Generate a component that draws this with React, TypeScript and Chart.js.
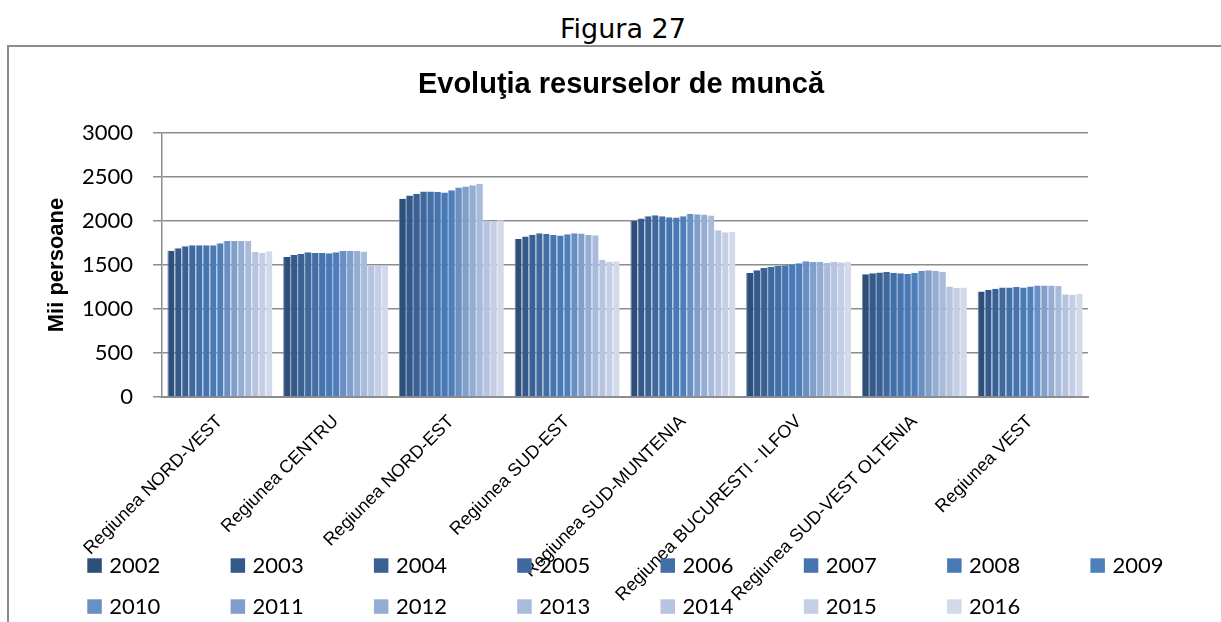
import React, { useEffect, useRef } from "react";
import { Chart, registerables } from "chart.js";

Chart.register(...registerables);

const categories = [
  "Regiunea NORD-VEST",
  "Regiunea CENTRU",
  "Regiunea NORD-EST",
  "Regiunea SUD-EST",
  "Regiunea SUD-MUNTENIA",
  "Regiunea BUCURESTI - ILFOV",
  "Regiunea SUD-VEST OLTENIA",
  "Regiunea VEST",
];

const years = ["2002", "2003", "2004", "2005", "2006", "2007", "2008", "2009", "2010", "2011", "2012", "2013", "2014", "2015", "2016"];

const v2002 = [1663, 1591, 2252, 1796, 2001, 1409, 1394, 1200];
const v2003 = [1690, 1614, 2290, 1823, 2028, 1439, 1405, 1215];
const v2004 = [1712, 1625, 2309, 1845, 2054, 1466, 1416, 1230];
const v2005 = [1724, 1644, 2335, 1861, 2066, 1481, 1420, 1245];
const v2006 = [1724, 1636, 2335, 1853, 2054, 1492, 1412, 1245];
const v2007 = [1724, 1636, 2331, 1842, 2043, 1496, 1405, 1249];
const v2008 = [1724, 1633, 2324, 1834, 2039, 1504, 1397, 1245];
const v2009 = [1747, 1644, 2350, 1849, 2054, 1519, 1412, 1257];
const v2010 = [1773, 1663, 2381, 1861, 2081, 1542, 1435, 1268];
const v2011 = [1773, 1663, 2392, 1857, 2077, 1534, 1439, 1268];
const v2012 = [1773, 1659, 2407, 1845, 2073, 1538, 1435, 1268];
const v2013 = [1773, 1652, 2422, 1838, 2062, 1523, 1424, 1261];
const v2014 = [1648, 1488, 2005, 1561, 1895, 1538, 1257, 1169];
const v2015 = [1640, 1488, 1997, 1538, 1872, 1530, 1242, 1162];
const v2016 = [1655, 1488, 2009, 1542, 1876, 1538, 1245, 1173];

const seriesValues = [v2002, v2003, v2004, v2005, v2006, v2007, v2008, v2009, v2010, v2011, v2012, v2013, v2014, v2015, v2016];

const yMin = 0;
const yMax = 3000;
const yStep = 500;
const yTickLabels = ["0", "500", "1000", "1500", "2000", "2500", "3000"];

const colors = [
  "#2f4f7b", "#34598a", "#3a6193", "#3f699e", "#436fa7", "#4774ae", "#4a7ab5", "#4e7fbb",
  "#6a8fc3", "#819fcb", "#96add3", "#a9bbda", "#b6c4e0", "#c4cee5", "#d2d9ea",
];

function tint(hex: string, amt: number): string {
  const n = parseInt(hex.slice(1), 16);
  const r = (n >> 16) & 255, g = (n >> 8) & 255, b = n & 255;
  const m = (c: number) => Math.round(c + (255 - c) * amt);
  return `rgb(${m(r)},${m(g)},${m(b)})`;
}

const gridLegend = {
  id: "gridLegend",
  afterDraw(chart: any) {
    const ctx = chart.ctx;
    ctx.save();
    ctx.font = "22px Lato";
    ctx.textBaseline = "alphabetic";
    ctx.textAlign = "left";
    chart.data.datasets.forEach((ds: any, i: number) => {
      const row = i < 8 ? 0 : 1;
      const col = i < 8 ? i : i - 8;
      const x = 78.3 + col * 143.3;
      const top = row === 0 ? 511.3 : 552.3;
      ctx.fillStyle = ds.backgroundColor;
      ctx.fillRect(x, top, 14.5, 14.5);
      ctx.fillStyle = "#000";
      ctx.fillText(ds.label, x + 22, top + 15);
    });
    ctx.restore();
  },
};

export default function App() {
  const canvasRef = useRef<HTMLCanvasElement | null>(null);

  useEffect(() => {
    if (!canvasRef.current) return;
    const chart = new Chart(canvasRef.current, {
      type: "bar",
      data: {
        labels: categories,
        datasets: years.map((y, i) => ({
          label: y,
          data: seriesValues[i],
          backgroundColor: colors[i],
          borderColor: tint(colors[i], 0.35),
          borderWidth: { left: 1, right: 0, top: 0, bottom: 0 },
          borderSkipped: false,
          categoryPercentage: 0.907,
          barPercentage: 1,
        })),
      },
      options: {
        animation: false,
        responsive: true,
        maintainAspectRatio: false,
        layout: { padding: { left: 0, right: 0, top: 0, bottom: 0 } },
        plugins: {
          legend: { display: false },
          tooltip: { enabled: false },
          title: {
            display: true,
            text: "Evoluţia resurselor de muncă",
            color: "#000",
            font: { family: "Liberation Sans", size: 29, weight: "bold" },
            padding: { top: 20.6, bottom: 30.6 },
          },
        },
        scales: {
          x: {
            grid: { display: false },
            border: { display: true, color: "#8c8c8c", width: 2 },
            ticks: {
              autoSkip: false,
              minRotation: 45,
              maxRotation: 45,
              padding: 6,
              color: "#000",
              font: { family: "Liberation Sans", size: 18 },
            },
            afterFit: (scale: any) => {
              scale.height = 225;
            },
          },
          y: {
            min: yMin,
            max: yMax,
            ticks: {
              stepSize: yStep,
              padding: 20,
              color: "#000",
              font: { family: "Lato", size: 22 },
              callback: (_v: any, idx: number) => yTickLabels[idx],
            },
            grid: { color: "#8c8c8c", lineWidth: 1.5, tickLength: 9, drawTicks: true },
            border: { display: true, color: "#8c8c8c", width: 1.5 },
            title: {
              display: true,
              text: "Mii persoane",
              color: "#000",
              font: { family: "Liberation Sans", size: 22, weight: "bold" },
              padding: { top: 35, bottom: 0 },
            },
            afterFit: (scale: any) => {
              scale.width = 153;
            },
          },
          yRight: {
            position: "right",
            display: true,
            min: yMin,
            max: yMax,
            grid: { display: false, drawTicks: false },
            border: { display: false },
            ticks: { display: false },
            afterFit: (scale: any) => {
              scale.width = 145;
            },
          },
        },
      },
      plugins: [gridLegend],
    });
    return () => chart.destroy();
  }, []);

  return (
    <div style={{ position: "fixed", left: 0, top: 0, width: 1221, height: 622, overflow: "hidden", background: "#fff" }}>
      <div
        style={{
          position: "absolute",
          left: 0,
          top: 10,
          width: 1246,
          height: 38,
          lineHeight: "38px",
          textAlign: "center",
          fontFamily: "'DejaVu Sans'",
          fontSize: 27,
          color: "#000",
        }}
      >
        Figura 27
      </div>
      <div
        style={{
          position: "absolute",
          left: 7,
          top: 45,
          width: 1400,
          height: 700,
          borderTop: "2px solid #8c8c8c",
          borderLeft: "2px solid #8c8c8c",
        }}
      />
      <div style={{ position: "absolute", left: 9, top: 47, width: 1224, height: 575 }}>
        <canvas ref={canvasRef} />
      </div>
    </div>
  );
}
